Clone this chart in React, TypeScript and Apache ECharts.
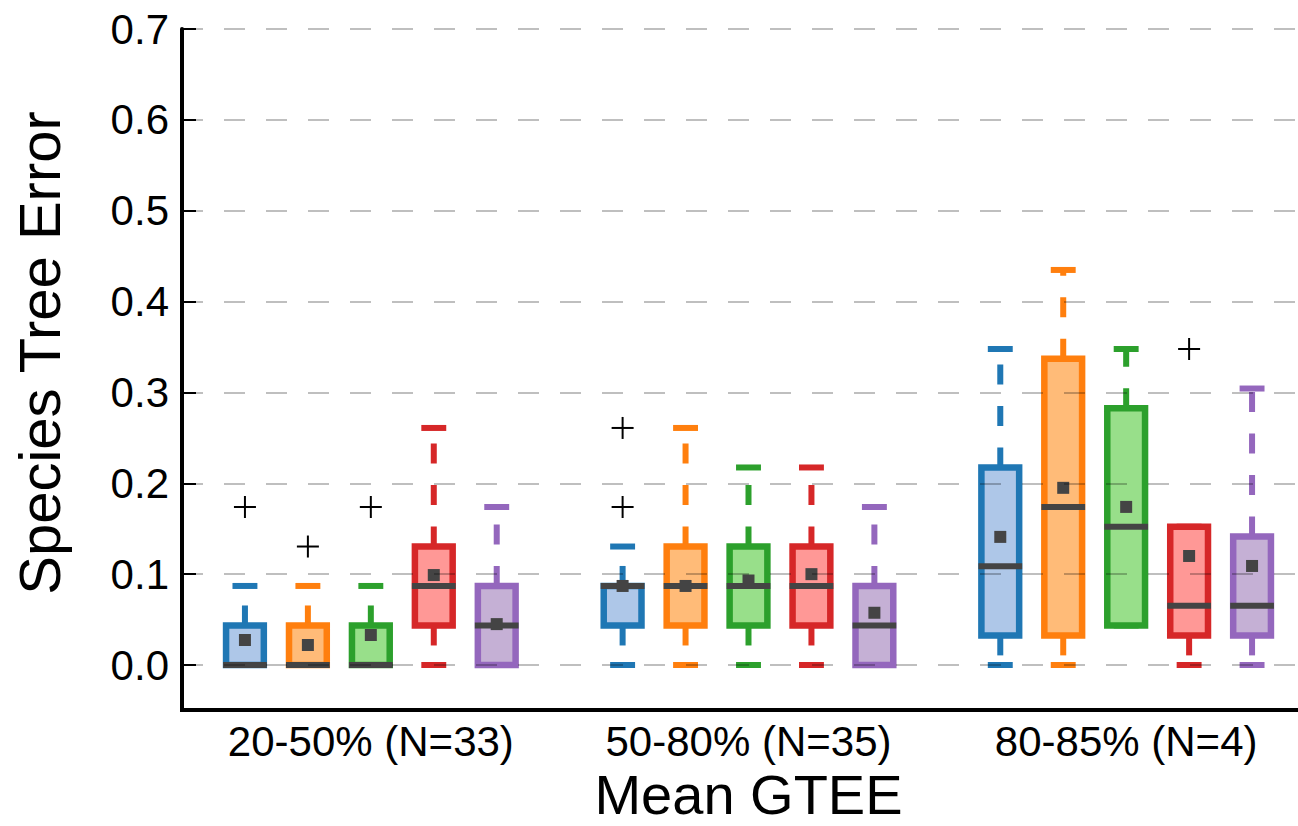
import React, { useEffect, useRef } from "react";
import * as echarts from "echarts";

// GTEE bins (x categories)
const categories = ["20-50% (N=33)", "50-80% (N=35)", "80-85% (N=4)"];
const methodNames = ["Method 1", "Method 2", "Method 3", "Method 4", "Method 5"];
const yTicks = [0, 0.1, 0.2, 0.3, 0.4, 0.5, 0.6, 0.7];

// Each box: [lower whisker, Q1, median, Q3, upper whisker], one per GTEE bin
const blueBoxes = [
  [0, 0, 0, 0.0435, 0.087],
  [0, 0.0435, 0.087, 0.087, 0.1304],
  [0, 0.0326, 0.1087, 0.2174, 0.3478],
];
const blueMeans = [0.0275, 0.087, 0.141];
const blueOutliers = [[0.1739], [0.1739, 0.2609], []];

const orangeBoxes = [
  [0, 0, 0, 0.0435, 0.087],
  [0, 0.0435, 0.087, 0.1304, 0.2609],
  [0, 0.0326, 0.1739, 0.337, 0.4348],
];
const orangeMeans = [0.022, 0.087, 0.195];
const orangeOutliers = [[0.1304], [], []];

const greenBoxes = [
  [0, 0, 0, 0.0435, 0.087],
  [0, 0.0435, 0.087, 0.1304, 0.2174],
  [0.0435, 0.0435, 0.1522, 0.2826, 0.3478],
];
const greenMeans = [0.033, 0.093, 0.174];
const greenOutliers = [[0.1739], [], []];

const redBoxes = [
  [0, 0.0435, 0.087, 0.1304, 0.2609],
  [0, 0.0435, 0.087, 0.1304, 0.2174],
  [0, 0.0326, 0.0652, 0.1522, 0.1522],
];
const redMeans = [0.099, 0.1, 0.12];
const redOutliers = [[], [], [0.3478]];

const purpleBoxes = [
  [0, 0, 0.0435, 0.087, 0.1739],
  [0, 0, 0.0435, 0.087, 0.1739],
  [0, 0.0326, 0.0652, 0.1413, 0.3043],
];
const purpleMeans = [0.045, 0.0575, 0.109];
const purpleOutliers = [[], [], []];

const edgeColors = ["#1f77b4", "#ff7f0e", "#2ca02c", "#d62728", "#9467bd"];
const fillColors = ["#aec7e8", "#ffbb78", "#98df8a", "#ff9896", "#c5b0d5"];

const allBoxes = [blueBoxes, orangeBoxes, greenBoxes, redBoxes, purpleBoxes];
const allMeans = [blueMeans, orangeMeans, greenMeans, redMeans, purpleMeans];
const allOutliers = [blueOutliers, orangeOutliers, greenOutliers, redOutliers, purpleOutliers];

const FONT = "'Liberation Sans', Arial, Helvetica, sans-serif";

function offsetX(api: any, cat: number, m: number) {
  const band = api.size([1, 0])[0];
  return { cx: api.coord([cat, 0])[0] + ((m - 2) * band) / 6, band };
}

function makeBoxRender(m: number) {
  return (params: any, api: any) => {
    const cat = api.value(0);
    const low = api.value(1);
    const q1 = api.value(2);
    const med = api.value(3);
    const q3 = api.value(4);
    const high = api.value(5);
    const mean = api.value(6);
    const { cx, band } = offsetX(api, cat, m);
    const Y = (v: number) => api.coord([cat, v])[1];
    const bw = band * 0.1;
    const cw = band * 0.066;
    const color = edgeColors[m];
    const fill = fillColors[m];
    const ch: any[] = [];
    if (high > q3) {
      ch.push({
        type: "line",
        shape: { x1: cx, y1: Y(q3), x2: cx, y2: Y(high) },
        style: { stroke: color, lineWidth: 6, lineDash: [20, 21.5] },
      });
    }
    if (low < q1) {
      ch.push({
        type: "line",
        shape: { x1: cx, y1: Y(q1), x2: cx, y2: Y(low) },
        style: { stroke: color, lineWidth: 6, lineDash: [20, 21.5] },
      });
    }
    [high, low].forEach((v) => {
      ch.push({
        type: "line",
        shape: { x1: cx - cw / 2, y1: Y(v), x2: cx + cw / 2, y2: Y(v) },
        style: { stroke: color, lineWidth: 6 },
      });
    });
    ch.push({
      type: "rect",
      shape: { x: cx - bw / 2, y: Y(q3), width: bw, height: Y(q1) - Y(q3) },
      style: { fill, stroke: color, lineWidth: 6.5, lineJoin: "miter" },
    });
    ch.push({
      type: "line",
      shape: { x1: cx - bw / 2 - 3, y1: Y(med), x2: cx + bw / 2 + 3, y2: Y(med) },
      style: { stroke: "#444444", lineWidth: 6 },
    });
    ch.push({
      type: "rect",
      shape: { x: cx - 6, y: Y(mean) - 6, width: 12, height: 12 },
      style: { fill: "#444444" },
    });
    return { type: "group", children: ch };
  };
}

function outlierRender(params: any, api: any) {
  const cat = api.value(0);
  const v = api.value(1);
  const m = api.value(2);
  const { cx } = offsetX(api, cat, m);
  const cy = api.coord([cat, v])[1];
  const h = 11;
  return {
    type: "group",
    children: [
      { type: "line", shape: { x1: cx - h, y1: cy, x2: cx + h, y2: cy }, style: { stroke: "#000", lineWidth: 2 } },
      { type: "line", shape: { x1: cx, y1: cy - h, x2: cx, y2: cy + h }, style: { stroke: "#000", lineWidth: 2 } },
    ],
  };
}

export default function App() {
  const ref = useRef<HTMLDivElement>(null);

  useEffect(() => {
    if (!ref.current) return;
    const chart = echarts.init(ref.current, null, { renderer: "svg" });

    const boxSeries = methodNames.map((name, m) => ({
      type: "custom",
      name,
      renderItem: makeBoxRender(m),
      encode: { x: 0, y: [1, 2, 3, 4, 5, 6] },
      data: categories.map((_, i) => [i, ...allBoxes[m][i], allMeans[m][i]]),
      z: 2,
    }));

    const outlierData: number[][] = [];
    allOutliers.forEach((perCat, m) =>
      perCat.forEach((vals, i) => vals.forEach((v) => outlierData.push([i, v, m])))
    );

    const option: any = {
      animation: false,
      textStyle: { fontFamily: FONT },
      grid: {
        left: 182,
        top: 29,
        width: 1133,
        height: 636,
        containLabel: false,
        outerBoundsMode: "none",
      },
      xAxis: {
        type: "category",
        data: categories,
        offset: 45,
        axisLine: { onZero: false, lineStyle: { color: "#000", width: 4 } },
        axisTick: { inside: true, length: 13, alignWithLabel: true, lineStyle: { color: "#000", width: 1.5 } },
        axisLabel: { fontSize: 42, color: "#000", margin: 10, fontFamily: FONT },
        splitLine: { show: false },
        name: "Mean GTEE",
        nameLocation: "middle",
        nameGap: 56,
        nameTextStyle: { fontSize: 56, color: "#000", fontFamily: FONT },
      },
      yAxis: {
        type: "value",
        min: yTicks[0],
        max: yTicks[yTicks.length - 1],
        interval: 0.1,
        z: 10,
        axisLine: { show: true, lineStyle: { color: "#000", width: 4 } },
        axisTick: { show: true, inside: true, length: 14, lineStyle: { color: "#000", width: 2 } },
        axisLabel: {
          fontSize: 42,
          color: "#000",
          margin: 13,
          fontFamily: FONT,
          formatter: (v: number) => v.toFixed(1),
        },
        splitLine: {
          show: true,
          lineStyle: { color: "rgba(0,0,0,0.25)", width: 2, type: [21, 21] },
        },
        name: "Species Tree Error",
        nameLocation: "middle",
        nameGap: 114,
        nameTextStyle: { fontSize: 58, color: "#000", fontFamily: FONT, padding: [0, 12, 0, 0] },
      },
      series: [
        ...boxSeries,
        {
          type: "custom",
          name: "Outliers",
          renderItem: outlierRender,
          encode: { x: 0, y: 1 },
          data: outlierData,
          z: 3,
        },
      ],
      graphic: [
        {
          type: "line",
          shape: { x1: 182, y1: 663, x2: 182, y2: 712 },
          style: { stroke: "#000", lineWidth: 4 },
          z: 20,
        },
      ],
    };

    chart.setOption(option);
    return () => chart.dispose();
  }, []);

  return (
    <div
      ref={ref}
      style={{ position: "absolute", left: 0, top: 0, width: 1298, height: 826, background: "#fff" }}
    />
  );
}
